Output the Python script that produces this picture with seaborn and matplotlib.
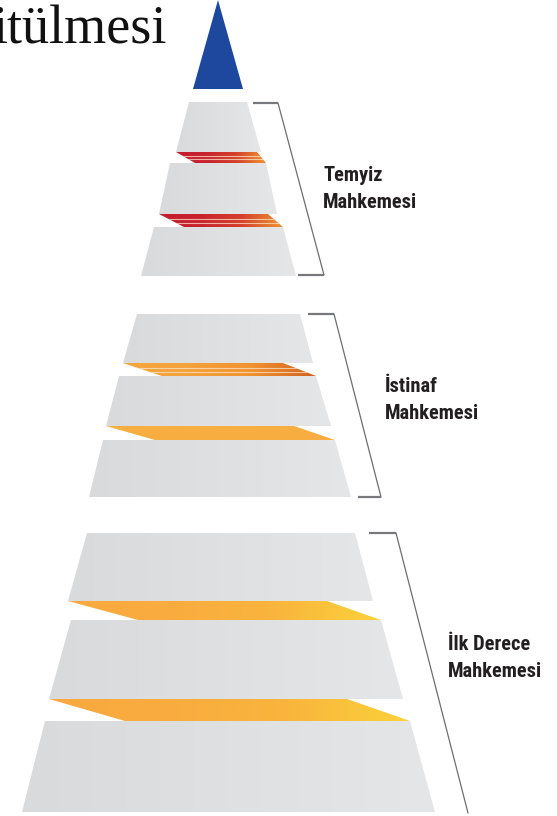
import numpy as np
import matplotlib
matplotlib.use("Agg")
import matplotlib.pyplot as plt
from matplotlib.patches import Polygon
from matplotlib import font_manager
import seaborn as sns

# Pyramid tiers, top to bottom (pixel units)
tier_top_y = [102, 163, 227, 314, 376, 440, 533, 620, 721]
tier_bot_y = [152, 214, 276, 363, 426, 497, 601, 699, 812]
tier_top_l = [189, 170, 154, 137, 119, 103, 87, 71, 45]
tier_top_r = [247, 266, 283, 300, 316, 335, 355, 381, 410]
tier_bot_l = [176, 159, 141, 123, 106, 89, 68, 49, 22]
tier_bot_r = [261, 277, 296, 313, 331, 351, 373, 403, 435]

# Coloured bands between tiers (index of the tier above)
band_above = [0, 1, 3, 4, 6, 7]
band_top_r = [257, 268, 283, 294, 327, 347]
band_bot_l = [195, 184, 162, 155, 138, 125]
band_kind = ["red", "red", "orange_lined", "orange", "yellow", "yellow"]

# Court labels and their brackets
label_line1 = ["Temyiz", "İstinaf", "İlk Derece"]
label_line2 = ["Mahkemesi", "Mahkemesi", "Mahkemesi"]
label_x = [323, 385, 448]
label_base = [181, 392, 650]
bracket_top = [103, 314, 533]
bracket_bot = [275, 497, 813]
bracket_x0 = [253, 308, 369]
bracket_x1 = [278, 334, 396]
bracket_x2 = [324, 381, 468]
bracket_foot = [298, 358, None]

# Blue apex and the cut-off heading
apex_x = [193, 218, 243]
apex_y = [89, 0, 89]
title_text = "itülmesi"

sns.set_theme(style="white")
plt.rcParams["font.family"] = ["Liberation Serif", "DejaVu Serif"]

installed = {f.name for f in font_manager.fontManager.ttflist}
label_family = ["DejaVu Sans"]
for cand in ["Roboto Condensed", "Liberation Sans Narrow", "Open Sans Condensed"]:
    if cand in installed:
        label_family = [cand, "DejaVu Sans"]
        break

band_cmaps = {
    "red": sns.blend_palette(["#c31d2f", "#c8222e", "#d4402c", "#ee9430"], as_cmap=True),
    "orange_lined": sns.blend_palette(["#f6a53c", "#f4a23a", "#f0932f", "#d2601e"], as_cmap=True),
    "orange": sns.blend_palette(["#f8ad41", "#f8ae42"], as_cmap=True),
    "yellow": sns.blend_palette(["#f9aa3f", "#f9ac3f", "#f9b53d", "#fbd23a"], as_cmap=True),
}
gray_cmap = sns.blend_palette(["#d9dadc", "#dfe0e1", "#e5e6e7"], as_cmap=True)


def grad_poly(ax, verts, cmap, z):
    verts = np.asarray(verts, dtype=float)
    patch = Polygon(verts, closed=True, facecolor="none", edgecolor="none")
    ax.add_patch(patch)
    x0, x1 = verts[:, 0].min(), verts[:, 0].max()
    y0, y1 = verts[:, 1].min(), verts[:, 1].max()
    g = np.linspace(0, 1, 256).reshape(1, -1)
    im = ax.imshow(g, cmap=cmap, extent=(x0, x1, y1, y0), aspect="auto",
                   interpolation="bilinear", zorder=z)
    im.set_clip_path(patch)
    return patch


fig = plt.figure(figsize=(5.57, 8.16), dpi=100)
ax = fig.add_axes([0, 0, 1, 1])
ax.set_xlim(0, 557)
ax.set_ylim(816, 0)
ax.axis("off")

# tiers
for i in range(len(tier_top_y)):
    verts = [(tier_top_l[i], tier_top_y[i]), (tier_top_r[i], tier_top_y[i]),
             (tier_bot_r[i], tier_bot_y[i]), (tier_bot_l[i], tier_bot_y[i])]
    grad_poly(ax, verts, gray_cmap, 2)

# bands
for k, t in enumerate(band_above):
    y0, y1 = tier_bot_y[t], tier_top_y[t + 1]
    verts = [(tier_bot_l[t], y0), (band_top_r[k], y0),
             (tier_top_r[t + 1], y1), (band_bot_l[k], y1)]
    patch = grad_poly(ax, verts, band_cmaps[band_kind[k]], 1)
    if band_kind[k] in ("red", "orange_lined"):
        for frac in (0.36, 0.68):
            yy = y0 + frac * (y1 - y0)
            ln, = ax.plot([0, 557], [yy, yy], color="#fbe3c8", lw=0.8,
                          alpha=0.75, zorder=1.5)
            ln.set_clip_path(patch)

# blue apex
ax.fill(apex_x, apex_y, color="#1d489d", lw=0, zorder=3)

# brackets
for i in range(3):
    ax.plot([bracket_x0[i], bracket_x1[i]], [bracket_top[i], bracket_top[i]],
            color="#77787b", lw=1.6, solid_capstyle="butt", zorder=3)
    ax.plot([bracket_x1[i], bracket_x2[i]], [bracket_top[i], bracket_bot[i]],
            color="#6d6e71", lw=0.9, zorder=3)
    if bracket_foot[i] is not None:
        ax.plot([bracket_foot[i], bracket_x2[i]], [bracket_bot[i], bracket_bot[i]],
                color="#77787b", lw=1.6, solid_capstyle="butt", zorder=3)

# labels
for i in range(3):
    for line, dy in ((label_line1[i], 0), (label_line2[i], 27)):
        ax.text(label_x[i], label_base[i] + dy, line, family=label_family,
                fontsize=14.8, fontweight="bold", color="#231f20",
                ha="left", va="baseline", zorder=4)

# cut-off heading
ax.text(167, 44, title_text, fontsize=39, color="#111111",
        ha="right", va="baseline", zorder=4)

fig.savefig("out.png", dpi=100)
